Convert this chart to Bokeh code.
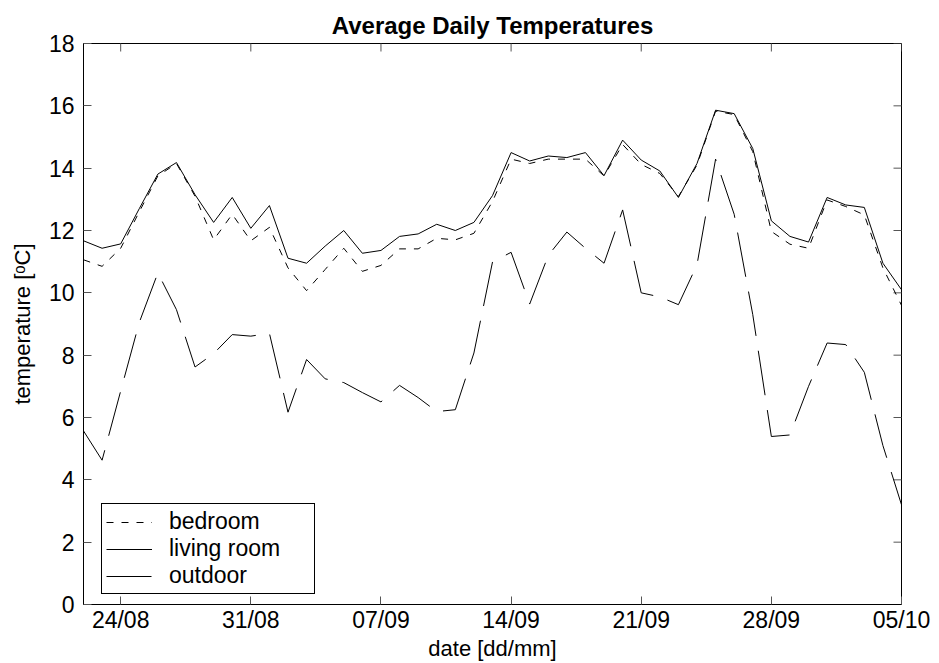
import math
import pandas as pd
from bokeh.plotting import figure
from bokeh.models import (FixedTicker, DatetimeTickFormatter, Range1d, Legend, LegendItem)
from bokeh.embed import file_html
from bokeh.resources import INLINE

# Daily mean temperatures, 22 Aug - 05 Oct
dates = pd.date_range("2003-08-22", "2003-10-05", freq="D")

bedroom = [11.06, 10.85, 11.43, 12.6, 13.75, 14.15, 13.1, 11.7, 12.52, 11.67,
           12.1, 10.8, 10.07, 10.75, 11.43, 10.69, 10.88, 11.41, 11.41, 11.75,
           11.7, 11.91, 12.93, 14.29, 14.15, 14.29, 14.29, 14.29, 13.75, 14.76,
           14.12, 13.83, 13.09, 14.1, 15.83, 15.72, 14.53, 11.97, 11.56, 11.43,
           12.98, 12.77, 12.5, 10.8, 9.6]

living_room = [11.67, 11.43, 11.57, 12.7, 13.81, 14.18, 13.15, 12.26, 13.06, 12.07,
               12.8, 11.11, 10.95, 11.5, 12.0, 11.27, 11.36, 11.81, 11.89, 12.2,
               12.0, 12.26, 13.12, 14.5, 14.23, 14.39, 14.34, 14.5, 13.76, 14.9,
               14.26, 13.91, 13.06, 14.15, 15.86, 15.75, 14.63, 12.31, 11.81, 11.63,
               13.06, 12.82, 12.74, 10.95, 10.1]

outdoor = [5.57, 4.63, 6.85, 9.05, 10.64, 9.46, 7.62, 8.05, 8.66, 8.61,
           8.7, 6.17, 7.86, 7.24, 7.12, 6.8, 6.5, 7.03, 6.64, 6.19,
           6.25, 8.07, 10.99, 11.3, 9.64, 11.2, 11.95, 11.43, 10.95, 12.66,
           10.0, 9.87, 9.62, 10.9, 14.29, 12.52, 9.3, 5.39, 5.44, 7.0,
           8.39, 8.34, 7.45, 5.1, 3.2]

x_tick_dates = ["2003-08-24", "2003-08-31", "2003-09-07", "2003-09-14",
                "2003-09-21", "2003-09-28", "2003-10-05"]
y_ticks = [0, 2, 4, 6, 8, 10, 12, 14, 16, 18]

FONT = "Liberation Sans"
TICK_COLOR = "#555555"

x_ticks_ts = pd.to_datetime(x_tick_dates)
x_ticker = FixedTicker(ticks=[t.value // 10**6 for t in x_ticks_ts])
y_ticker = FixedTicker(ticks=y_ticks)
fmt = "%d/%m"
x_formatter = DatetimeTickFormatter(milliseconds=fmt, seconds=fmt, minsec=fmt, minutes=fmt,
                                    hourmin=fmt, hours=fmt, days=fmt, months=fmt, years=fmt)

x_lo, x_hi = dates[0], dates[-1]
y_lo, y_hi = 0, 18

p = figure(width=939, height=663, x_axis_type="datetime",
           x_range=Range1d(x_lo, x_hi), y_range=Range1d(y_lo, y_hi),
           output_backend="svg", toolbar_location=None,
           min_border_left=83, min_border_right=38, min_border_top=43, min_border_bottom=59)

p.background_fill_color = "white"
p.border_fill_color = "white"
p.outline_line_color = "black"
p.outline_line_alpha = 1
p.xgrid.visible = False
p.ygrid.visible = False

p.title.text = "Average Daily Temperatures"
p.title.align = "center"
p.title.text_font = FONT
p.title.text_font_style = "bold"
p.title.text_font_size = "24px"
p.title.text_line_height = 1.0
p.title.text_color = "black"
p.title.standoff = 10

for ax in (p.xaxis[0], p.yaxis[0]):
    ax.major_tick_in = 8
    ax.major_tick_out = 0
    ax.minor_tick_in = 0
    ax.minor_tick_out = 0
    ax.axis_line_color = "black"
    ax.major_tick_line_color = TICK_COLOR
    ax.major_label_text_font = FONT
    ax.major_label_text_font_size = "23px"
    ax.major_label_text_line_height = 1.0
    ax.major_label_text_color = "black"
    ax.axis_label_text_font = FONT
    ax.axis_label_text_font_size = "22px"
    ax.axis_label_text_line_height = 1.0
    ax.axis_label_text_font_style = "normal"
    ax.axis_label_text_color = "black"

xa = p.xaxis[0]
xa.ticker = x_ticker
xa.formatter = x_formatter
xa.major_label_standoff = 2
xa.axis_label = "date [dd/mm]"
xa.axis_label_standoff = 0

ya = p.yaxis[0]
ya.ticker = y_ticker
ya.major_label_standoff = 9
ya.axis_label = "temperature [ᵒC]"
ya.axis_label_standoff = 11

# inward tick marks along the top and right edges of the box (clipped to the frame)
p.scatter(x=list(x_ticks_ts), y=[y_hi] * len(x_ticks_ts), marker="dash", size=16,
          angle=math.pi / 2, line_color=TICK_COLOR, line_width=1)
p.scatter(x=[x_hi] * len(y_ticks), y=y_ticks, marker="dash", size=16,
          line_color=TICK_COLOR, line_width=1)

r_bed = p.line(dates, bedroom, line_color="black", line_width=1, line_dash="7 8")
r_liv = p.line(dates, living_room, line_color="black", line_width=1)
r_out = p.line(dates, outdoor, line_color="black", line_width=1, line_dash="45 15")

legend = Legend(items=[LegendItem(label="bedroom", renderers=[r_bed]),
                       LegendItem(label="living room", renderers=[r_liv]),
                       LegendItem(label="outdoor", renderers=[r_out])],
                location=(18, 10))
legend.label_text_font = FONT
legend.label_text_font_size = "23px"
legend.label_text_line_height = 1.0
legend.label_text_color = "black"
legend.glyph_width = 46
legend.glyph_height = 20
legend.label_height = 20
legend.label_width = 141
legend.label_standoff = 17
legend.padding = 4
legend.spacing = 0
legend.margin = 0
legend.border_line_color = "black"
legend.border_line_alpha = 1
legend.border_line_width = 1
legend.background_fill_color = "white"
legend.background_fill_alpha = 1
p.add_layout(legend)

open("out.html", "w").write(file_html(p, INLINE))
